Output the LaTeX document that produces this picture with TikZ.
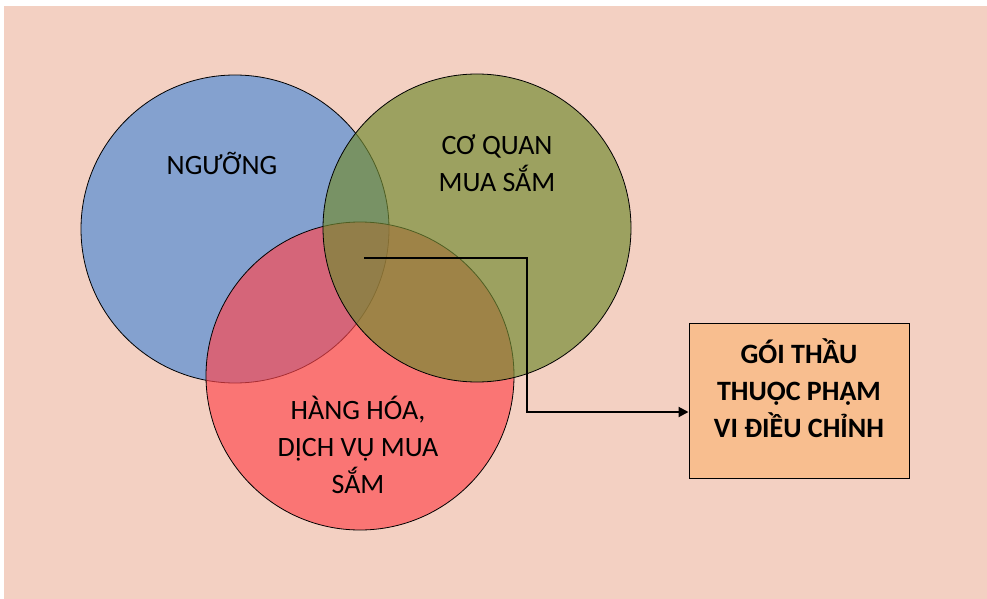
\documentclass[tikz,border=0pt]{standalone}
\usepackage{fontspec}
\setmainfont{Carlito}
\usepackage{xcolor}
\usetikzlibrary{arrows.meta}

\definecolor{bgpink}{RGB}{243,208,194}
\definecolor{setblue}{RGB}{132,161,207}
\definecolor{setred}{RGB}{255,70,77}
\definecolor{setgreen}{RGB}{115,139,51}
\definecolor{boxorange}{RGB}{248,190,143}

\begin{document}
\begin{tikzpicture}[x=1pt, y=-1pt,
    set/.style={circle, draw=black, line width=0.8pt, minimum size=308pt, inner sep=0pt},
    lbl/.style={align=center, font=\fontsize{28}{37}\selectfont},
    result/.style={draw=black, line width=1pt, fill=boxorange, minimum width=220pt, minimum height=155pt},
    resulttext/.style={align=center, font=\bfseries\fontsize{28}{37}\selectfont},
    conn/.style={line width=2pt, -{Triangle[length=10pt, width=10pt]}}]
            \useasboundingbox (0,0) rectangle (987,599);
            \fill[bgpink] (4,6) rectangle (987,599);

            \node[set, fill=setblue]                        (S1) at (235,229) {};
            \node[set, fill=setred, fill opacity=0.66]     (S3) at (360,376) {};
            \node[set, fill=setgreen, fill opacity=0.68]   (S2) at (477,228) {};

            \node[lbl] (L1) at (222,163) {NGƯỠNG};
            \node[lbl] (L2) at (497,163) {CƠ QUAN\\MUA SẮM};
            \node[lbl] (L3) at (358,445) {HÀNG HÓA,\\DỊCH VỤ MUA\\SẮM};

            \node[result] (R) at (799,400.5) {};
            \node[resulttext] (RT) at (799,388) {GÓI THẦU\\THUỘC PHẠM\\VI ĐIỀU CHỈNH};

            \coordinate (C0) at (364,258);
            \coordinate (C1) at (527,412);
            \draw[conn] (C0) -| (C1) -- (C1 -| R.west);
        \end{tikzpicture}
\end{document}
